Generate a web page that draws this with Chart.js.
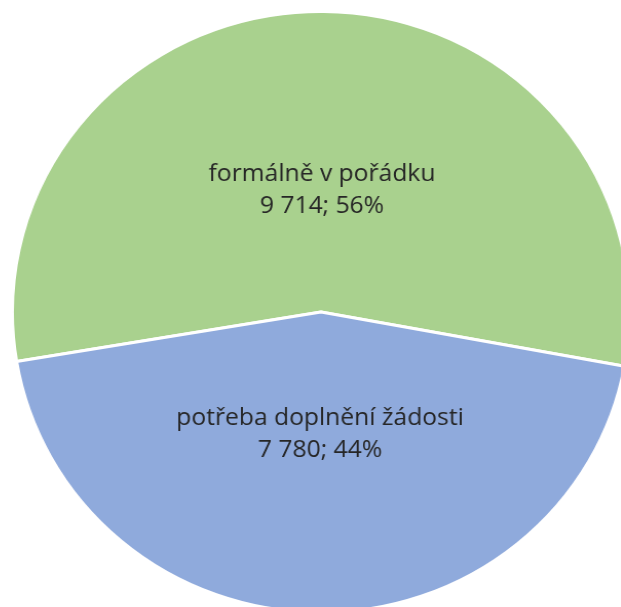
<!DOCTYPE html>
<html>
<head>
<meta charset="utf-8">
<script src="https://cdn.jsdelivr.net/npm/chart.js@4"></script>
<style>
    html, body { margin: 0; padding: 0; background: #fff; overflow: hidden; width: 621px; height: 607px; }
    #wrap { position: absolute; left: 19px; top: 10px; width: 604px; height: 604px; transform: scaleX(1.027); transform-origin: 302px 302px; }
</style>
</head>
<body>
<div id="wrap"><canvas id="pieChart"></canvas></div>
<script>
// Data
const categories = ['formálně v pořádku', 'potřeba doplnění žádosti'];
const counts = [9714, 7780];
const sliceColors = ['#A9D18E', '#8FAADC'];

// thousands separated with a space, as in the original
function formatNumber(n) {
    return String(n).replace(/\B(?=(\d{3})+(?!\d))/g, ' ');
}

// Draws "category / value; pct%" inside each slice
const sliceLabels = {
    id: 'sliceLabels',
    afterDatasetsDraw(chart) {
        const ctx = chart.ctx;
        const meta = chart.getDatasetMeta(0);
        const data = chart.data.datasets[0].data;
        const total = data.reduce((a, b) => a + b, 0);

        ctx.save();
        ctx.fillStyle = '#262626';
        ctx.textAlign = 'center';
        ctx.textBaseline = 'middle';
        ctx.font = '24px "Open Sans", "Noto Sans", sans-serif';

        meta.data.forEach((arc, i) => {
            const mid = (arc.startAngle + arc.endAngle) / 2;
            const d = arc.outerRadius * 0.405;
            const x = arc.x + Math.cos(mid) * d;
            const y = arc.y + Math.sin(mid) * d;
            const pct = Math.round(data[i] / total * 100);
            ctx.fillText(chart.data.labels[i], x, y - 16);
            ctx.fillText(formatNumber(data[i]) + '; ' + pct + '%', x, y + 16);
        });
        ctx.restore();
    }
};

const ctx = document.getElementById('pieChart').getContext('2d');
new Chart(ctx, {
    type: 'pie',
    data: {
        labels: categories,
        datasets: [{
            data: counts,
            backgroundColor: sliceColors,
            borderColor: '#ffffff',
            borderWidth: 3
        }]
    },
    options: {
        responsive: true,
        maintainAspectRatio: false,
        animation: false,
        rotation: 260.5,
        layout: { padding: 0 },
        plugins: {
            legend: { display: false },
            tooltip: { enabled: false }
        }
    },
    plugins: [sliceLabels]
});
</script>
</body>
</html>
